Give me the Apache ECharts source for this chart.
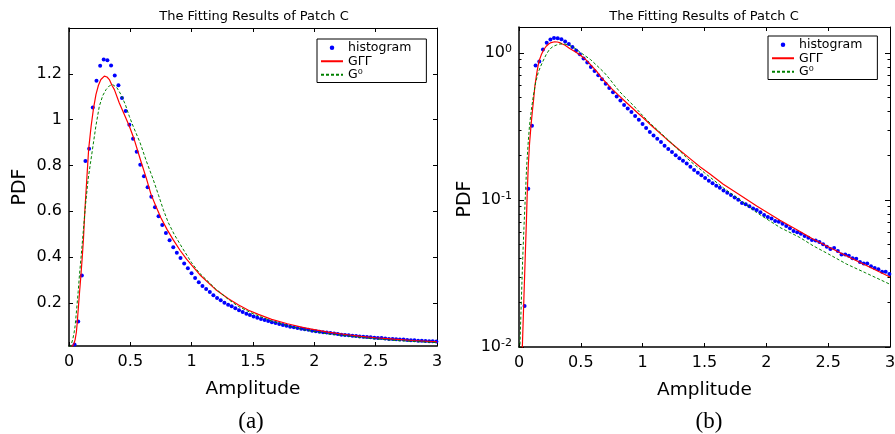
<!DOCTYPE html>
<html><head><meta charset="utf-8">
<script src="https://cdn.jsdelivr.net/npm/echarts@6/dist/echarts.min.js"></script>
<style>html,body{margin:0;padding:0;background:#fff}#c{width:895px;height:434px}</style>
</head><body><div id="c"></div>
<script>
// ---- data ----
const histX = [0.045,0.075,0.105,0.134,0.164,0.194,0.224,0.254,0.283,0.313,
0.343,0.373,0.403,0.432,0.462,0.492,0.522,0.552,0.581,0.611,
0.641,0.671,0.701,0.730,0.760,0.790,0.820,0.850,0.879,0.909,
0.939,0.969,0.999,1.028,1.058,1.088,1.118,1.148,1.177,1.207,
1.237,1.267,1.297,1.326,1.356,1.386,1.416,1.446,1.475,1.505,
1.535,1.565,1.595,1.624,1.654,1.684,1.714,1.744,1.773,1.803,
1.833,1.863,1.893,1.922,1.952,1.982,2.012,2.042,2.071,2.101,
2.131,2.161,2.191,2.220,2.250,2.280,2.310,2.340,2.369,2.399,
2.429,2.459,2.489,2.518,2.548,2.578,2.608,2.638,2.667,2.697,
2.727,2.757,2.787,2.816,2.846,2.876,2.906,2.936,2.965,2.995];
const histY = [0.019,0.119,0.32,0.82,0.873,1.053,1.17,1.235,1.262,1.259,
1.236,1.193,1.15,1.095,1.038,0.978,0.917,0.86,0.803,0.753,
0.705,0.663,0.618,0.578,0.54,0.505,0.474,0.443,0.419,0.396,
0.372,0.351,0.329,0.309,0.29,0.274,0.261,0.248,0.234,0.222,
0.212,0.201,0.192,0.185,0.177,0.168,0.16,0.153,0.147,0.141,
0.135,0.13,0.125,0.121,0.116,0.112,0.108,0.104,0.1005,0.0955,
0.0935,0.0906,0.0873,0.0855,0.0825,0.0791,0.0766,0.0747,0.072,0.0712,
0.069,0.0666,0.0642,0.0615,0.0603,0.059,0.0569,0.0554,0.0535,0.0529,
0.0518,0.05,0.0481,0.0464,0.0471,0.045,0.0425,0.0425,0.0418,0.0401,
0.0399,0.0379,0.0369,0.0369,0.0354,0.0345,0.0338,0.0325,0.0325,0.0314];

const ggX = [0.02,0.027,0.04,0.05,0.06,0.066,0.075,0.085,0.097,0.108,0.118,0.129,0.145,0.16,0.18,0.2,0.22,0.24,0.26,0.288,
0.31,0.329,0.35,0.37,0.41,0.451,0.492,0.532,0.588,0.63,0.668,0.71,0.749,0.8,0.85,0.905,0.96,1.0,1.068,1.194,
1.3,1.383,1.463,1.544,1.652,1.78,1.922,2.11,2.272,2.38,2.5,2.65,2.8,3.0];
const ggY = [0.006,0.01,0.022,0.04,0.072,0.107,0.17,0.24,0.32,0.40,0.48,0.60,0.74,0.87,0.97,1.05,1.11,1.15,1.175,1.19,
1.186,1.175,1.15,1.131,1.073,1.022,0.971,0.913,0.815,0.745,0.675,0.62,0.572,0.52,0.475,0.43,0.39,0.365,0.322,0.259,
0.218,0.191,0.168,0.15,0.128,0.109,0.091,0.0728,0.061,0.054,0.048,0.0416,0.0361,0.0299];

const g0X = [0.002,0.01,0.02,0.03,0.04,0.05,0.062,0.075,0.085,0.1,0.116,0.135,0.156,0.175,0.193,0.22,0.247,0.275,0.302,0.33,
0.356,0.39,0.424,0.46,0.492,0.524,0.579,0.63,0.687,0.73,0.769,0.81,0.857,0.924,1.0,1.059,1.194,1.3,1.383,1.5,
1.652,1.8,1.922,2.11,2.272,2.38,2.5,2.65,2.8,3.0];
const g0Y = [0.006,0.012,0.022,0.04,0.065,0.1,0.17,0.25,0.32,0.41,0.51,0.63,0.74,0.81,0.876,0.975,1.058,1.105,1.131,1.148,
1.153,1.14,1.109,1.065,1.014,0.97,0.9,0.82,0.738,0.67,0.607,0.55,0.50,0.44,0.375,0.333,0.262,0.215,0.184,0.153,
0.121,0.098,0.082,0.065,0.0555,0.0487,0.043,0.0366,0.032,0.0267];

const linTicks = [0.2,0.4,0.6,0.8,1,1.2];
const logExps = [-2,-1,0];
const logMinor = [0.02,0.03,0.04,0.05,0.06,0.07,0.08,0.09,0.2,0.3,0.4,0.5,0.6,0.7,0.8,0.9];
const titleText = 'The Fitting Results of Patch C';
const names = ['histogram','G\u0393\u0393','G\u2070'];
const panelTags = ['(a)','(b)'];
const xName = 'Amplitude';
const yName = 'PDF';

// ---- chart ----
const F = 'DejaVu Sans';
const zip = (xs, ys) => xs.map((x, i) => [x, ys[i]]);
const chart = echarts.init(document.getElementById('c'), null, {renderer: 'canvas'});
const LOGMIN = 0.01, LOGMAX = 1.5;

function xAx(gi, pos, main) {
  return {
    type: 'value', gridIndex: gi, position: pos, min: 0, max: 3, interval: 0.5,
    splitLine: {show: false},
    axisLine: {show: true, onZero: false, lineStyle: {color: '#000', width: main ? 1.5 : 1}},
    axisTick: {show: true, inside: true, length: 4, lineStyle: {color: '#000'}},
    axisLabel: {show: main, color: '#000', fontFamily: F, fontSize: 16, margin: 8},
    name: main ? xName : '', nameLocation: 'middle', nameGap: 34,
    nameTextStyle: {fontFamily: F, fontSize: 18.5, color: '#000'}
  };
}
const lg = v => Math.log10(v);
const options = {
  animation: false,
  backgroundColor: '#fff',
  title: [
    {text: titleText, left: 254, top: 10, textAlign: 'center', padding: 0,
     textStyle: {fontFamily: F, fontSize: 13, fontWeight: 'normal', color: '#000'}},
    {text: titleText, left: 704, top: 10, textAlign: 'center', padding: 0,
     textStyle: {fontFamily: F, fontSize: 13, fontWeight: 'normal', color: '#000'}},
    {text: panelTags[0], left: 251, top: 410, textAlign: 'center', padding: 0,
     textStyle: {fontFamily: 'Liberation Serif', fontSize: 23, fontWeight: 'normal', color: '#000'}},
    {text: panelTags[1], left: 709, top: 410, textAlign: 'center', padding: 0,
     textStyle: {fontFamily: 'Liberation Serif', fontSize: 23, fontWeight: 'normal', color: '#000'}}
  ],
  legend: [0, 1].map(i => ({
    orient: 'vertical', left: [317, 768][i], top: [39, 36][i],
    data: [{name: names[0]}, {name: names[1], itemStyle: {opacity: 0}}, {name: names[2], itemStyle: {opacity: 0}}],
    itemWidth: 22, itemHeight: 4.5, itemGap: 0,
    padding: [2, 15, 1, 3], borderColor: '#000', borderWidth: 1, backgroundColor: '#fff',
    textStyle: {fontFamily: F, fontSize: 12.5, lineHeight: 13.5, color: '#000'},
    selectedMode: false
  })),
  grid: [
    {left: 69, top: 28, width: 368, height: 318, outerBoundsMode: 'none', containLabel: false},
    {left: 519, top: 27, width: 371, height: 320, outerBoundsMode: 'none', containLabel: false}
  ],
  xAxis: [xAx(0, 'bottom', true), xAx(0, 'top', false), xAx(1, 'bottom', true), xAx(1, 'top', false)],
  yAxis: [
    {type: 'value', gridIndex: 0, position: 'left', min: 0.012, max: 1.4,
     splitLine: {show: false},
     axisLine: {show: true, onZero: false, lineStyle: {color: '#000', width: 1.5}},
     axisTick: {show: true, inside: true, length: 4, customValues: linTicks, lineStyle: {color: '#000'}},
     axisLabel: {show: true, customValues: linTicks, color: '#000', fontFamily: F, fontSize: 16, margin: 7},
     name: yName, nameLocation: 'middle', nameRotate: 90, nameGap: 39,
     nameTextStyle: {fontFamily: F, fontSize: 19, color: '#000'}},
    {type: 'value', gridIndex: 0, position: 'right', min: 0.012, max: 1.4,
     splitLine: {show: false},
     axisLine: {show: true, onZero: false, lineStyle: {color: '#000', width: 1}},
     axisTick: {show: true, inside: true, length: 4, customValues: linTicks, lineStyle: {color: '#000'}},
     axisLabel: {show: false}},
    {type: 'log', logBase: 10, gridIndex: 1, position: 'left', min: LOGMIN, max: LOGMAX,
     splitLine: {show: false},
     axisLine: {show: true, onZero: false, lineStyle: {color: '#000', width: 1.5}},
     axisTick: {show: false}, axisLabel: {show: false},
     name: yName, nameLocation: 'middle', nameRotate: 90, nameGap: 44,
     nameTextStyle: {fontFamily: F, fontSize: 19, color: '#000', padding: [0, 24, 0, 0]}},
    {type: 'value', gridIndex: 1, position: 'left', min: lg(LOGMIN), max: lg(LOGMAX),
     splitLine: {show: false}, axisLine: {show: false},
     axisTick: {show: true, inside: true, length: 5, customValues: logExps, lineStyle: {color: '#000'}},
     axisLabel: {show: true, customValues: logExps, margin: 7,
       formatter: v => '{b|10}{s|' + v + '}',
       rich: {b: {fontFamily: F, fontSize: 16, color: '#000'},
              s: {fontFamily: F, fontSize: 11, color: '#000', padding: [0, 0, 8, 0]}}}},
    {type: 'value', gridIndex: 1, position: 'left', min: lg(LOGMIN), max: lg(LOGMAX),
     splitLine: {show: false}, axisLine: {show: false},
     axisTick: {show: true, inside: true, length: 2.5, customValues: logMinor.map(lg), lineStyle: {color: '#000'}},
     axisLabel: {show: false}},
    {type: 'value', gridIndex: 1, position: 'right', min: lg(LOGMIN), max: lg(LOGMAX),
     splitLine: {show: false},
     axisLine: {show: true, onZero: false, lineStyle: {color: '#000', width: 1}},
     axisTick: {show: true, inside: true, length: 5, customValues: logExps, lineStyle: {color: '#000'}},
     axisLabel: {show: false}},
    {type: 'value', gridIndex: 1, position: 'right', min: lg(LOGMIN), max: lg(LOGMAX),
     splitLine: {show: false}, axisLine: {show: false},
     axisTick: {show: true, inside: true, length: 2.5, customValues: logMinor.map(lg), lineStyle: {color: '#000'}},
     axisLabel: {show: false}}
  ],
  series: []
};
[[0, 0], [2, 2]].forEach(([xi, yi]) => {
  options.series.push(
    {name: names[0], type: 'scatter', xAxisIndex: xi, yAxisIndex: yi, data: zip(histX, histY),
     symbol: 'circle', symbolSize: 4, itemStyle: {color: '#0000ff', opacity: 1}, silent: true},
    {name: names[1], type: 'line', xAxisIndex: xi, yAxisIndex: yi, data: zip(ggX, ggY),
     symbol: 'none', showSymbol: false, smooth: false, clip: true,
     lineStyle: {color: '#ff0000', width: 1.2}, itemStyle: {color: '#ff0000'}, silent: true},
    {name: names[2], type: 'line', xAxisIndex: xi, yAxisIndex: yi, data: zip(g0X, g0Y),
     symbol: 'none', showSymbol: false, smooth: false, clip: true,
     lineStyle: {color: '#008000', width: 1, type: [3, 2]}, itemStyle: {color: '#008000'}, silent: true}
  );
});
chart.setOption(options);
</script>
</body></html>
